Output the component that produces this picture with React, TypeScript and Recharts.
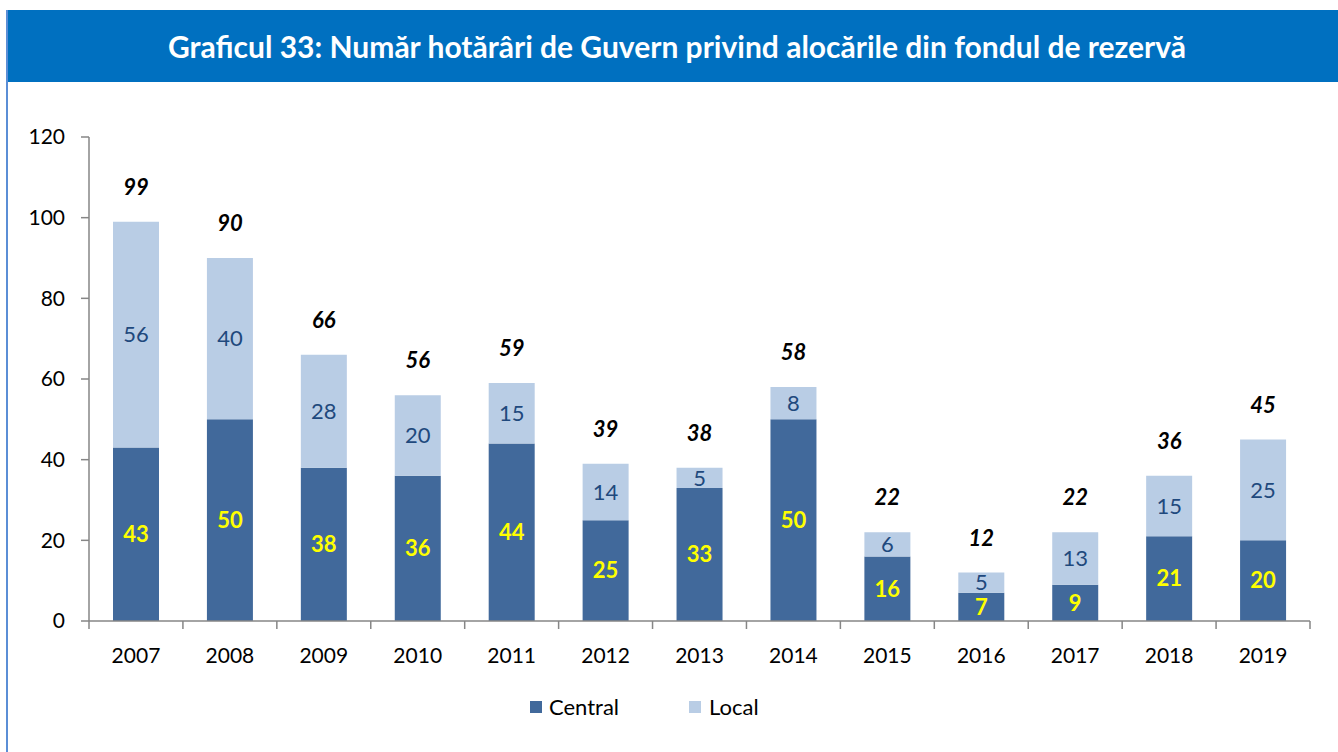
import React from 'react';
import { BarChart, Bar, XAxis, YAxis, LabelList, Legend } from 'recharts';

const years = ['2007', '2008', '2009', '2010', '2011', '2012', '2013', '2014', '2015', '2016', '2017', '2018', '2019'];
const central = [43, 50, 38, 36, 44, 25, 33, 50, 16, 7, 9, 21, 20];
const local = [56, 40, 28, 20, 15, 14, 5, 8, 6, 5, 13, 15, 25];
const yTicks = [0, 20, 40, 60, 80, 100, 120];

const data = years.map((y, i) => ({
  year: y,
  central: central[i],
  local: local[i],
  total: central[i] + local[i],
}));

const FONT = 'Lato, "Noto Sans", sans-serif';
const AXIS = '#868686';
const C_CENTRAL = '#41699B';
const C_LOCAL = '#B9CDE5';

const XTick = (props: any) => {
  const { x, y, payload, index, visibleTicksCount } = props;
  const off = payload && payload.offset != null ? payload.offset : 0;
  const top = y - 27;
  return (
    <g>
      <line x1={x - off} x2={x - off} y1={top} y2={top + 8} stroke={AXIS} strokeWidth={1.5} />
      {index === visibleTicksCount - 1 && (
        <line x1={x + off} x2={x + off} y1={top} y2={top + 8} stroke={AXIS} strokeWidth={1.5} />
      )}
      <text x={x} y={y} dy="0.71em" textAnchor="middle" fill="#000" fontSize={21} fontFamily={FONT}>
        {payload.value}
      </text>
    </g>
  );
};

const LegendContent = () => (
  <div style={{ display: 'flex', alignItems: 'center', fontFamily: FONT, fontSize: 22, color: '#000' }}>
    <span style={{ display: 'inline-block', width: 12, height: 12, background: C_CENTRAL, marginRight: 7 }} />
    <span style={{ marginRight: 70 }}>Central</span>
    <span style={{ display: 'inline-block', width: 12, height: 12, background: C_LOCAL, marginRight: 8 }} />
    <span>Local</span>
  </div>
);

export default function App() {
  return (
    <div style={{ position: 'absolute', left: 0, top: 0, width: 1338, height: 752, background: '#fff' }}>
      <div style={{ position: 'absolute', left: 6, top: 10, width: 2, height: 742, background: '#5B8ED6' }} />
      <div
        style={{
          position: 'absolute',
          left: 8,
          top: 10,
          width: 1330,
          height: 72,
          background: '#0070C0',
          color: '#fff',
          fontFamily: FONT,
          fontWeight: 700,
          fontSize: 30,
          display: 'flex',
          alignItems: 'center',
          justifyContent: 'center',
          paddingLeft: 8,
          boxSizing: 'border-box',
        }}
      >
        Graficul 33: Număr hotărâri de Guvern privind alocările din fondul de rezervă
      </div>
      <div style={{ position: 'absolute', left: 0, top: 0 }}>
        <BarChart
          width={1338}
          height={752}
          data={data}
          margin={{ top: 137, right: 28, bottom: 91, left: 29 }}
        >
          <XAxis
            dataKey="year"
            height={40}
            axisLine={{ stroke: AXIS, strokeWidth: 1.5 }}
            tickLine={false}
            tickSize={0}
            tickMargin={27}
            tick={<XTick />}
            interval={0}
          />
          <YAxis
            width={60}
            domain={[0, 120]}
            ticks={yTicks}
            axisLine={{ stroke: AXIS, strokeWidth: 1.5 }}
            tickLine={{ stroke: AXIS, strokeWidth: 1.5 }}
            tickSize={8}
            tickMargin={16}
            tick={{ fill: '#000', fontSize: 21, fontFamily: FONT }}
            interval={0}
          />
          <Legend
            layout="horizontal"
            verticalAlign="middle"
            align="center"
            content={<LegendContent />}
            wrapperStyle={{ top: 693, left: 530, width: 320 }}
          />
          <Bar dataKey="central" name="Central" stackId="a" fill={C_CENTRAL} barSize={46} isAnimationActive={false}>
            <LabelList
              dataKey="central"
              position="center"
              fill="#FFFF00"
              fontSize={22}
              fontWeight={700}
              fontFamily={FONT}
            />
          </Bar>
          <Bar dataKey="local" name="Local" stackId="a" fill={C_LOCAL} barSize={46} isAnimationActive={false}>
            <LabelList
              dataKey="local"
              position="center"
              fill="#1F497D"
              fontSize={22}
              fontFamily={FONT}
            />
            <LabelList
              dataKey="total"
              position="top"
              offset={27}
              fill="#000"
              fontSize={22}
              fontWeight={700}
              fontStyle="italic"
              fontFamily={FONT}
            />
          </Bar>
        </BarChart>
      </div>
    </div>
  );
}
